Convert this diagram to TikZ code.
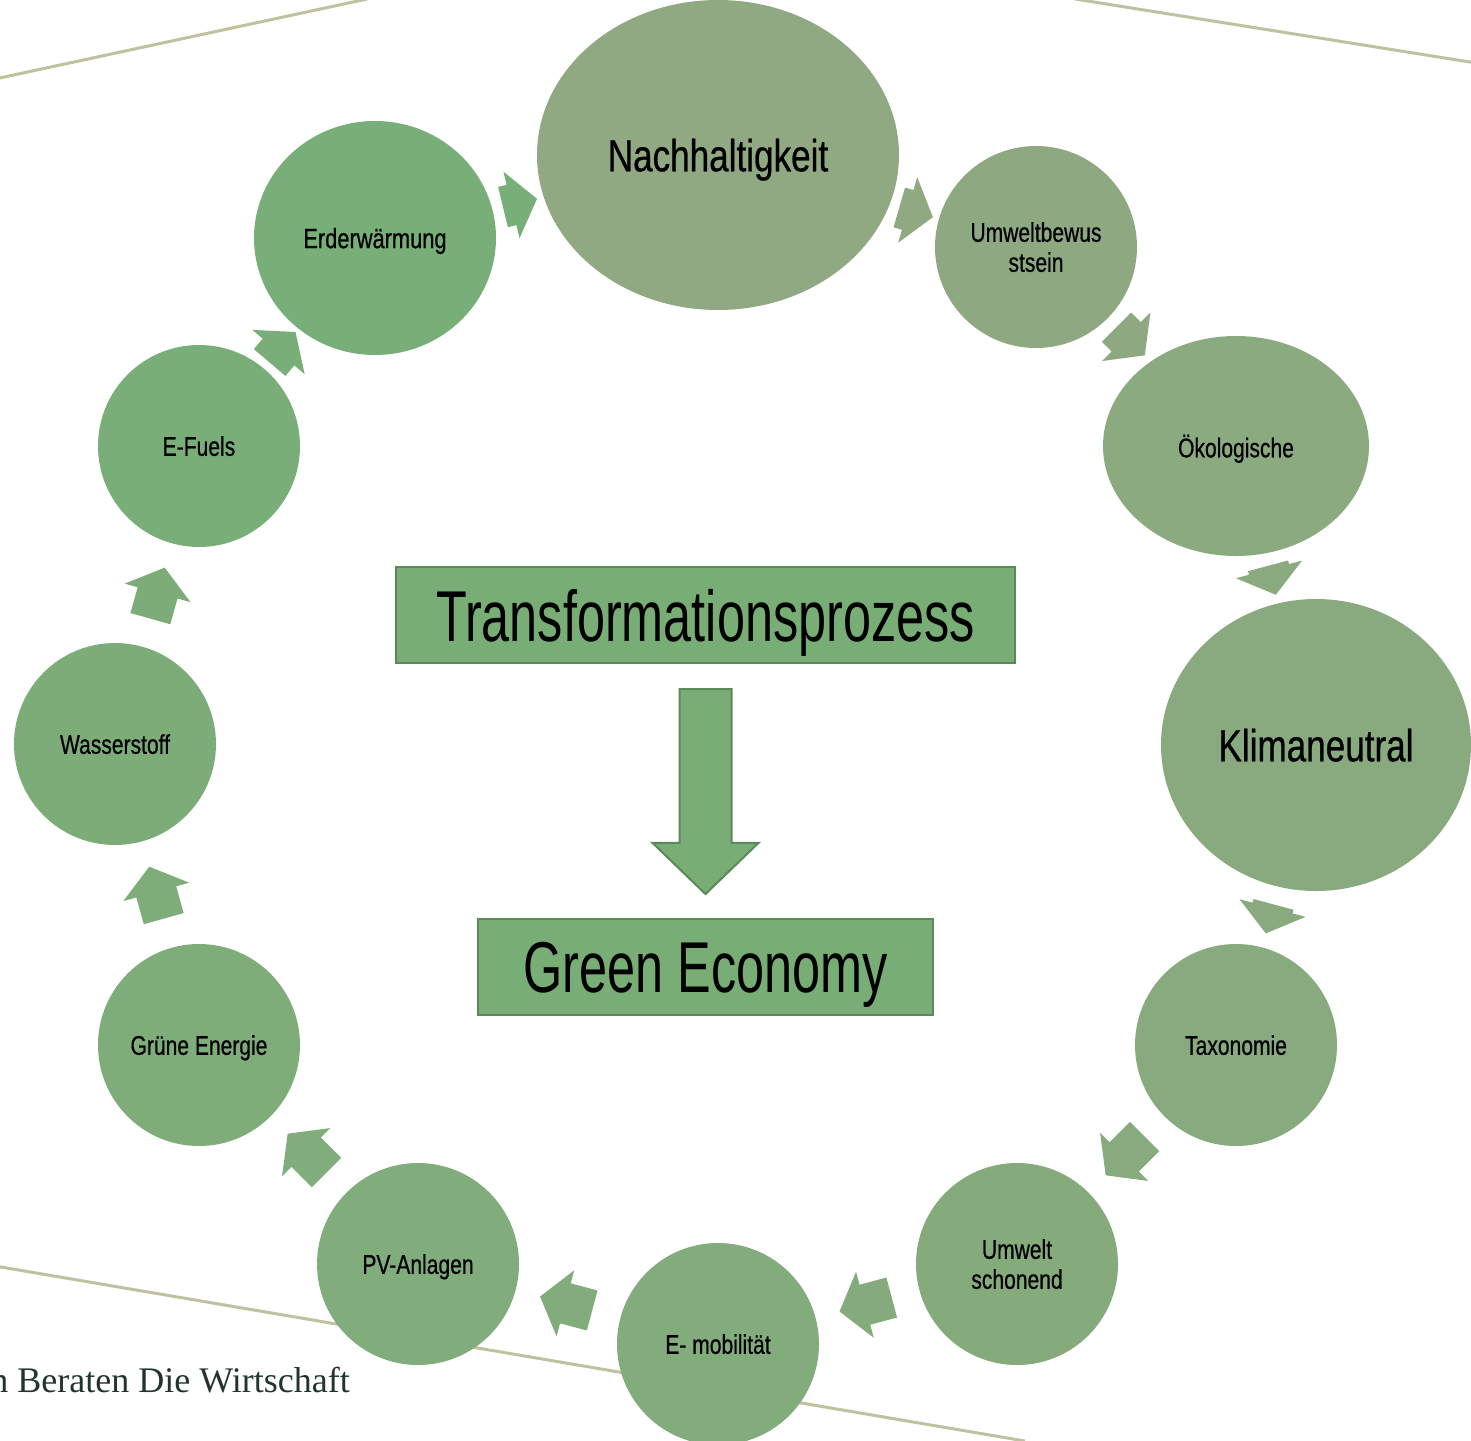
\documentclass[tikz,border=0pt]{standalone}
\usepackage{fontspec}
\setmainfont{Liberation Sans}[FakeStretch=0.78]
\newfontfamily\ringfont{Liberation Sans}[FakeStretch=0.78,FakeBold=0.6]
\newfontfamily\bigfont{Liberation Sans}[FakeStretch=0.70]
\newfontfamily\sloganfont{Liberation Serif}
\usepackage{xcolor}
\usepackage{tikz}
\usetikzlibrary{shapes.geometric,shapes.arrows}

\definecolor{cnh}{HTML}{90A982}
\definecolor{cub}{HTML}{8EA981}
\definecolor{cok}{HTML}{8CAA80}
\definecolor{ckl}{HTML}{89AA7F}
\definecolor{ctx}{HTML}{87AB7E}
\definecolor{cus}{HTML}{85AB7D}
\definecolor{cem}{HTML}{83AC7C}
\definecolor{cpv}{HTML}{81AC7B}
\definecolor{cgr}{HTML}{7FAD7A}
\definecolor{cws}{HTML}{7CAD79}
\definecolor{cef}{HTML}{7AAE78}
\definecolor{ced}{HTML}{78AE77}
\definecolor{boxgreen}{HTML}{78AD76}
\definecolor{frame}{HTML}{5A8A57}
\definecolor{decoline}{HTML}{BFC19F}
\definecolor{slogan}{HTML}{22352C}

\begin{document}
\begin{tikzpicture}[x=1pt,y=-1pt,
  every node/.style={inner sep=0pt},
  ring/.style={circle,minimum size=202pt,align=center,text depth=0pt,font=\ringfont\fontsize{27}{30}\selectfont},
  bigring/.style={ellipse,align=center,text depth=0pt,font=\ringfont\fontsize{45}{50}\selectfont},
  box/.style={rectangle,draw=frame,line width=2pt,fill=boxgreen,minimum height=96pt,text depth=0pt,font=\bigfont\fontsize{72}{80}\selectfont},
  blockarrow/.style={single arrow,inner ysep=20.5pt,minimum width=68pt,single arrow head extend=13.5pt,single arrow tip angle=105,sloped,allow upside down,xshift=-6pt},
  decoline/.style={draw=decoline,line width=3pt}]
\useasboundingbox (0,0) rectangle (1471,1440);
\draw [decoline] (-5,79) -- (367,-1);
\draw [decoline] (1075,-1) -- (1476,63);
\draw [decoline] (-5,1266) -- (1025,1441);
\node [anchor=base east,text=slogan,font=\sloganfont\fontsize{36}{40}\selectfont] (slogan) at (350,1392) {n Beraten Die Wirtschaft};
\node [bigring,fill=cnh,minimum width=362pt,minimum height=310pt] (nh) at (718,155) {Nachhaltigkeit};
\node [ring,fill=cub] (ub) at (1036,247) {Umweltbewus\\stsein};
\node [ring,ellipse,fill=cok,minimum width=266pt,minimum height=220pt] (ok) at (1236,446) {Ökologische};
\node [bigring,fill=ckl,minimum width=310pt,minimum height=292pt] (kl) at (1316,745) {Klimaneutral};
\node [ring,fill=ctx] (tx) at (1236,1045) {Taxonomie};
\node [ring,fill=cus] (us) at (1017,1264) {Umwelt\\schonend};
\node [ring,fill=cem] (em) at (718,1344) {E- mobilität};
\node [ring,fill=cpv] (pv) at (418,1264) {PV-Anlagen};
\node [ring,fill=cgr] (gr) at (199,1045) {Grüne Energie};
\node [ring,fill=cws] (ws) at (115,744) {Wasserstoff};
\node [ring,fill=cef] (ef) at (199,446) {E-Fuels};
\node [ring,ellipse,fill=ced,minimum width=242pt,minimum height=234pt,font=\ringfont\fontsize{28}{30}\selectfont] (ed) at (375,238) {Erderwärmung};
\foreach \a/\b/\c/\l in {ed/nh/ced/35,nh/ub/cnh/35,ub/ok/cub/40,ok/kl/cok/30,kl/tx/ckl/30,tx/us/ctx/55,
  us/em/cus/54,em/pv/cem/54,pv/gr/cpv/55,gr/ws/cgr/54,ws/ef/cws/53,ef/ed/cef/40}
  \path (\a) -- node [blockarrow,fill=\c,minimum height=\l pt] {} (\b);
\node [box,minimum width=619pt] (tp) at (705.5,615) {Transformationsprozess};
\node [box,minimum width=455pt] (geco) at (705.5,967) {Green Economy};
\path (tp) -- node [blockarrow,fill=boxgreen,draw=frame,line width=2pt,inner ysep=25pt,minimum width=104pt,minimum height=205pt,
  single arrow head extend=27pt,single arrow tip angle=92,xshift=-6pt] {} (geco);
\end{tikzpicture}
\end{document}
